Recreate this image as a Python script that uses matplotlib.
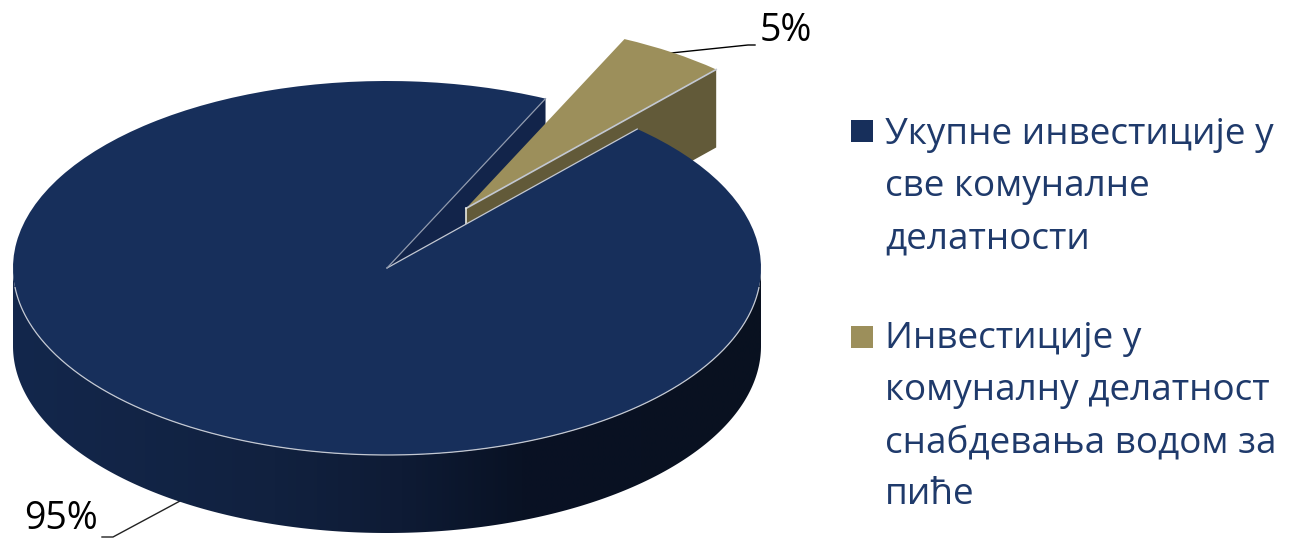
import numpy as np
import matplotlib
matplotlib.use("Agg")
import matplotlib.pyplot as plt
from matplotlib.patches import Rectangle, Polygon
from matplotlib.colors import LinearSegmentedColormap

categories = ["Укупне инвестиције у\nсве комуналне\nделатности",
              "Инвестиције у\nкомуналну делатност\nснабдевања водом за\nпиће"]
values = [95.3, 4.7]
value_labels = ["95%", "5%"]

W, H = 1291, 538
CX, CY, RX, RY, DEPTH = 387, 268, 374, 187, 78
START = 48
EXPLODE = 0.382
BLUE, GOLD = "#172f5b", "#9c8f5b"
BLUE_WALL, GOLD_WALL = "#12244a", "#625a39"
EDGE = "#c3c8d2"
TEXT_BLUE = "#1f3a6b"
FONT = ["Open Sans", "DejaVu Sans"]

fig = plt.figure(figsize=(W / 100, H / 100), dpi=100)
ax = fig.add_axes([0, 0, 1, 1])
wedges, _ = ax.pie(values, startangle=START, counterclock=False, radius=1,
                   explode=[0, EXPLODE], colors=[BLUE, GOLD],
                   wedgeprops=dict(linewidth=0))
d = DEPTH / RY
wedges[0].set_zorder(6)
wedges[1].set_zorder(4)

# slice angles follow from the values
sweep = 360 * values[1] / sum(values)
a_lo, a_hi = START, START + sweep
lo, hi = np.radians(a_lo), np.radians(a_hi)
mid = (lo + hi) / 2
ox, oy = EXPLODE * np.cos(mid), EXPLODE * np.sin(mid)

# outer side wall of the large slice, shaded left to right
cmap = LinearSegmentedColormap.from_list(
    "wall", [(0, "#13274c"), (0.35, "#11213f"), (0.52, "#0e1b35"),
             (0.68, "#091224"), (1, "#091120")])
gradient = np.linspace(0, 1, 512)[None, :]
im = ax.imshow(gradient, cmap=cmap, extent=(-1, 1, -1 - d, 1), aspect="auto",
               zorder=1, interpolation="bilinear")
ts = np.radians(np.linspace(180, 360, 300))
xs, ys = np.cos(ts), np.sin(ts)
wall = Polygon(np.r_[np.c_[xs, ys], np.c_[xs[::-1], ys[::-1] - d]], closed=True,
               transform=ax.transData, fc="none", ec="none")
ax.add_patch(wall)
im.set_clip_path(wall)

# inner walls
ux, uy = np.cos(hi), np.sin(hi)
ax.add_patch(Polygon([(0, 0), (ux, uy), (ux, uy - d), (0, -d)], closed=True,
                     fc=BLUE_WALL, ec="none", zorder=2))
vx, vy = np.cos(lo), np.sin(lo)
ax.add_patch(Polygon([(ox, oy), (ox + vx, oy + vy), (ox + vx, oy + vy - d), (ox, oy - d)],
                     closed=True, fc=GOLD_WALL, ec="none", zorder=3))

# thin highlights on the edges
rim = ts[(ts > np.radians(186)) & (ts < np.radians(354))]
ax.plot(np.cos(rim), np.sin(rim), color=EDGE, lw=0.9, zorder=7)
ax.plot([0, vx], [0, vy], color=EDGE, lw=0.9, zorder=7)
ax.plot([0, ux], [0, uy], color="#8f99ad", lw=0.9, zorder=7)
ax.plot([ox, ox + vx], [oy, oy + vy], color=EDGE, lw=1.2, zorder=5)
ax.plot([ox, ox], [oy, oy - d], color="#e8e8e0", lw=1.2, zorder=5)

ax.set_aspect("auto")
ax.set_xlim(-CX / RX, (W - CX) / RX)
ax.set_ylim((CY - H) / RY, CY / RY)
ax.axis("off")


def fx(x):
    return x / W


def fy(y):
    return 1 - y / H


def dx(x):
    return (x - CX) / RX


def dy(y):
    return (CY - y) / RY


# value labels with leaders
ax.plot([dx(671), dx(748), dx(755)], [dy(53), dy(45), dy(45)], color="black", lw=1.0, zorder=3)
ax.plot([dx(180), dx(113), dx(102)], [dy(501), dy(537), dy(537)], color="#222222", lw=1.0, zorder=0)
fig.text(fx(760), fy(41), value_labels[1], ha="left", va="baseline", fontsize=27,
         family=FONT, color="black")
fig.text(fx(24), fy(529), value_labels[0], ha="left", va="baseline", fontsize=27,
         family=FONT, color="black")

# legend
LINE = 52
for base, mark_top, label, col in zip([144, 348], [120, 326], categories, [BLUE, GOLD]):
    fig.add_artist(Rectangle((fx(851), fy(mark_top + 22)), 22 / W, 22 / H,
                             transform=fig.transFigure, fc=col, ec="none"))
    for i, line in enumerate(label.split("\n")):
        fig.text(fx(885), fy(base + i * LINE), line, ha="left", va="baseline",
                 fontsize=26.6, family=FONT, color=TEXT_BLUE)

fig.savefig("out.png", dpi=100, facecolor="white")
